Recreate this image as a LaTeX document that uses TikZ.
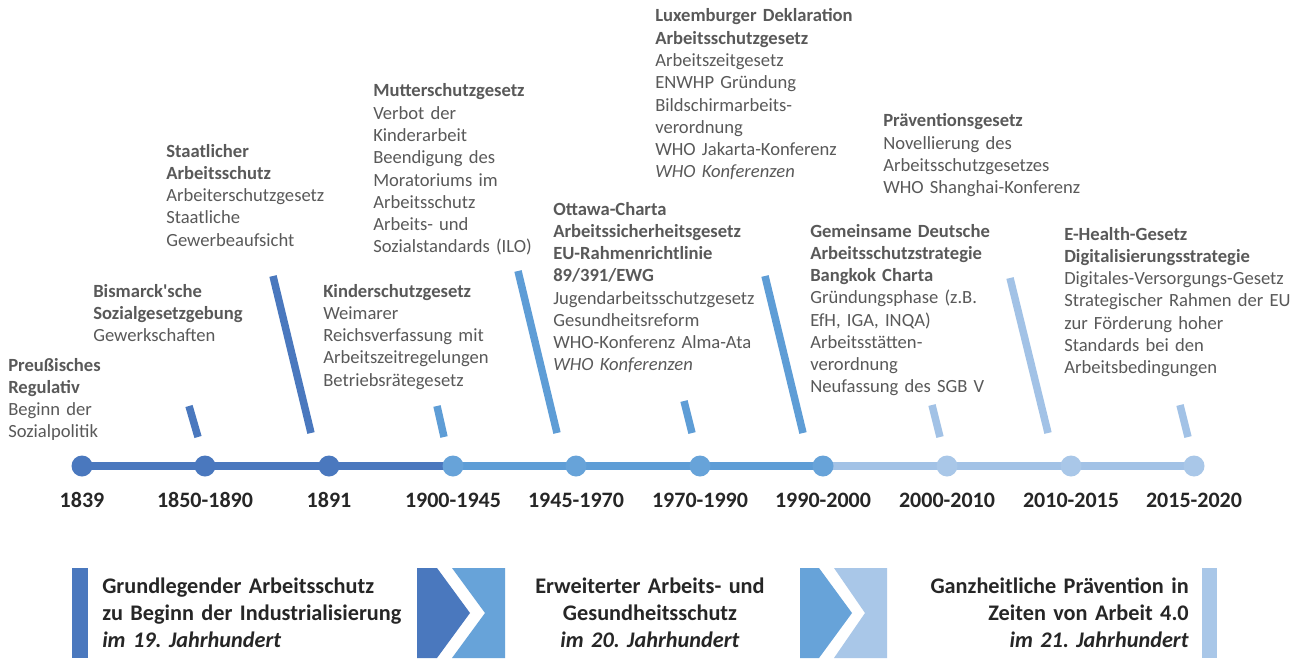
\documentclass[tikz,border=0pt]{standalone}
\usepackage{fontspec}
\setmainfont{Carlito}
\frenchspacing
\definecolor{cdark}{HTML}{4A78BE}
\definecolor{cmid}{HTML}{5E9DD6}
\definecolor{cmidc}{HTML}{67A3D9}
\definecolor{clight}{HTML}{A2C2E6}
\definecolor{clightc}{HTML}{A9C7E8}
\definecolor{tgray}{HTML}{595959}
\definecolor{tdark}{HTML}{262626}
\begin{document}
\begin{tikzpicture}[x=0.75pt,y=-0.75pt,
  txt/.style={anchor=base west, inner sep=0pt, text width=300pt, align=left, text=tgray, font=\fontsize{13.95}{16.7}\selectfont},
  yr/.style={anchor=base, inner sep=0pt, text=tdark, font=\fontsize{16.5}{20}\selectfont\bfseries},
  dot/.style={circle, inner sep=0pt, minimum size=15.75pt},
  tl/.style={line width=5.6pt},
  tickline/.style={line width=5.6pt},
  big/.style={inner sep=0pt, text width=300pt, text=tdark, font=\fontsize{16.7}{20.25}\selectfont\bfseries}
]
\useasboundingbox[fill=white] (0,0) rectangle (1295,660);

% timeline coordinates
\foreach \i/\x in {1/82,2/205,3/329,4/453,5/576,6/700,7/823,8/947,9/1071,10/1194}
  \coordinate (p\i) at (\x,466);

\draw[tl, cdark] (p1) -- (p4);
\draw[tl, cmid] (p4) -- (p7);
\draw[tl, clight] (p7) -- (p10);

\foreach \i in {1,2,3} \node[dot, fill=cdark] (c\i) at (p\i) {};
\foreach \i in {4,5,6,7} \node[dot, fill=cmidc] (c\i) at (p\i) {};
\foreach \i in {8,9,10} \node[dot, fill=clightc] (c\i) at (p\i) {};

% year labels
\node[yr] (y1) at (82,507) {1839};
\node[yr] (y2) at (205,507) {1850-1890};
\node[yr] (y3) at (329,507) {1891};
\node[yr] (y4) at (453,507) {1900-1945};
\node[yr] (y5) at (576,507) {1945-1970};
\node[yr] (y6) at (700,507) {1970-1990};
\node[yr] (y7) at (823,507) {1990-2000};
\node[yr] (y8) at (947,507) {2000-2010};
\node[yr] (y9) at (1071,507) {2010-2015};
\node[yr] (y10) at (1194,507) {2015-2020};

% slanted ticks
\draw[tickline, cdark] (189,406) -- (198,437);
\draw[tickline, cdark] (273,276) -- (311,433);
\draw[tickline, cmid] (437,406) -- (444,437);
\draw[tickline, cmid] (518,271) -- (557,433);
\draw[tickline, cmid] (684,401) -- (692,433);
\draw[tickline, cmid] (765,276) -- (803,433);
\draw[tickline, clight] (932,405) -- (940,437);
\draw[tickline, clight] (1010,278) -- (1048,433);
\draw[tickline, clight] (1180,405) -- (1188,437);

% text blocks
\node[txt] (t1) at (8,371) {\textbf{Preußisches}\\\textbf{Regulativ}\\Beginn der\\Sozialpolitik};
\node[txt] (t2) at (93,297) {\textbf{Bismarck\textquotesingle sche}\\\textbf{Sozialgesetzgebung}\\Gewerkschaften};
\node[txt] (t3) at (166,157) {\textbf{Staatlicher}\\\textbf{Arbeitsschutz}\\Arbeiterschutzgesetz\\Staatliche\\Gewerbeaufsicht};
\node[txt] (t4) at (323,297) {\textbf{Kinderschutzgesetz}\\Weimarer\\Reichsverfassung mit\\Arbeitszeitregelungen\\Betriebsrätegesetz};
\node[txt] (t5) at (373,97) {\textbf{Mutterschutzgesetz}\\Verbot der\\Kinderarbeit\\Beendigung des\\Moratoriums im\\Arbeitsschutz\\Arbeits- und\\Sozialstandards (ILO)};
\node[txt] (t6) at (553,215) {\textbf{Ottawa-Charta}\\\textbf{Arbeitssicherheitsgesetz}\\\textbf{EU-Rahmenrichtlinie}\\\textbf{89/391/EWG}\\Jugendarbeitsschutzgesetz\\Gesundheitsreform\\WHO-Konferenz Alma-Ata\\\textit{WHO Konferenzen}};
\node[txt] (t7) at (655,22) {\textbf{Luxemburger Deklaration}\\\textbf{Arbeitsschutzgesetz}\\Arbeitszeitgesetz\\ENWHP Gründung\\Bildschirmarbeits-\\verordnung\\WHO Jakarta-Konferenz\\\textit{WHO Konferenzen}};
\node[txt] (t8) at (883,127) {\textbf{Präventionsgesetz}\\Novellierung des\\Arbeitsschutzgesetzes\\WHO Shanghai-Konferenz};
\node[txt] (t9) at (810,237) {\textbf{Gemeinsame Deutsche}\\\textbf{Arbeitsschutzstrategie}\\\textbf{Bangkok Charta}\\Gründungsphase (z.B.\\EfH, IGA, INQA)\\Arbeitsstätten-\\verordnung\\Neufassung des SGB V};
\node[txt] (t10) at (1064,240) {\textbf{E-Health-Gesetz}\\\textbf{Digitalisierungsstrategie}\\Digitales-Versorgungs-Gesetz\\Strategischer Rahmen der EU\\zur Förderung hoher\\Standards bei den\\Arbeitsbedingungen};

% bottom bars and chevrons
\fill[cdark] (72,568) rectangle (88,658);
\fill[cdark] (417,568) -- (437,568) -- (470,613) -- (437,658) -- (417,658) -- cycle;
\fill[cmidc] (452,568) -- (505,568) -- (505,658) -- (452,658) -- (485,613) -- cycle;
\fill[cmidc] (800,568) -- (819,568) -- (852,613) -- (819,658) -- (800,658) -- cycle;
\fill[clightc] (834,568) -- (887,568) -- (887,658) -- (834,658) -- (865,613) -- cycle;
\fill[clightc] (1202,568) rectangle (1217,658);

% bottom texts
\node[big, anchor=base west, align=left] (b1) at (102,593) {Grundlegender Arbeitsschutz\\zu Beginn der Industrialisierung\\\textit{im 19. Jahrhundert}};
\node[big, anchor=base, align=center] (b2) at (650,593) {Erweiterter Arbeits- und\\Gesundheitsschutz\\\textit{im 20. Jahrhundert}};
\node[big, anchor=base east, align=right] (b3) at (1189,593) {Ganzheitliche Prävention in\\Zeiten von Arbeit 4.0\\\textit{im 21. Jahrhundert}};
\end{tikzpicture}
\end{document}
